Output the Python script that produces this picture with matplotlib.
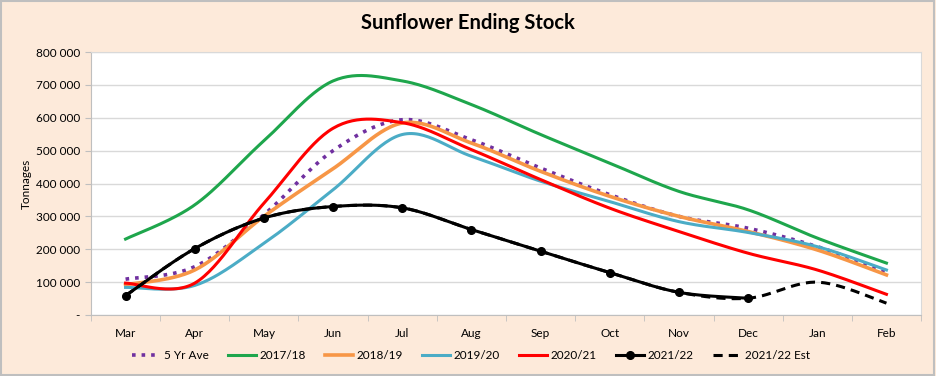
import numpy as np
import matplotlib
matplotlib.use("Agg")
import matplotlib.pyplot as plt
from matplotlib.lines import Line2D
from matplotlib.patches import Rectangle

months = ["Mar", "Apr", "May", "Jun", "Jul", "Aug", "Sep", "Oct", "Nov", "Dec", "Jan", "Feb"]
yr5_ave = [109000, 147000, 305000, 500000, 594000, 533000, 447000, 366000, 300000, 264000, 208000, 132000]
s2017 = [231000, 335000, 530000, 712000, 712000, 640000, 549000, 462000, 376000, 320000, 234000, 158000]
s2018 = [92000, 137000, 300000, 445000, 584000, 523000, 437000, 361000, 300000, 254000, 198000, 122000]
s2019 = [84000, 90000, 218000, 381000, 549000, 483000, 407000, 345000, 284000, 251000, 208000, 137000]
s2020 = [97000, 97000, 340000, 568000, 585000, 503000, 412000, 325000, 254000, 188000, 137000, 63000]
s2021 = [59000, 202000, 295000, 330000, 326000, 260000, 194000, 129000, 69000, 51000]
s2021_est = [59000, 202000, 295000, 330000, 326000, 260000, 194000, 129000, 69000, 51000, 100000, 36000]
yticks = [0, 100000, 200000, 300000, 400000, 500000, 600000, 700000, 800000]
ytick_labels = ["-", "100 000", "200 000", "300 000", "400 000", "500 000", "600 000", "700 000", "800 000"]

FONT = "Lato"


def smooth(xs, ys, n=30):
    xs = np.asarray(xs, float)
    ys = np.asarray(ys, float)
    px = np.concatenate([[xs[0]], xs, [xs[-1]]])
    py = np.concatenate([[ys[0]], ys, [ys[-1]]])
    outx, outy = [], []
    t = np.linspace(0, 1, n)
    for i in range(1, len(px) - 2):
        p0, p1, p2, p3 = (np.array([px[j], py[j]]) for j in range(i - 1, i + 3))
        c1 = p1 + (p2 - p0) / 6.0
        c2 = p2 - (p3 - p1) / 6.0
        b = ((1 - t) ** 3)[:, None] * p1 + (3 * (1 - t) ** 2 * t)[:, None] * c1 \
            + (3 * (1 - t) * t ** 2)[:, None] * c2 + (t ** 3)[:, None] * p2
        outx.extend(b[:, 0]); outy.extend(b[:, 1])
    return np.array(outx), np.array(outy)


BG = "#FDEADA"
fig = plt.figure(figsize=(9.36, 3.76), dpi=100, facecolor=BG)
fig.patches.append(Rectangle((0.001, 0.002), 0.997, 0.995, transform=fig.transFigure,
                             facecolor="none", edgecolor="#BFBFBF", linewidth=1.5))
ax = fig.add_axes([0.0972, 0.1622, 0.8868, 0.6995])
ax.set_facecolor("white")

x = np.arange(len(months))
styles = [
    (yr5_ave, "#7030A0", ":", 2.6, "5 Yr Ave"),
    (s2017, "#1EA64C", "-", 2.2, "2017/18"),
    (s2018, "#F79646", "-", 2.6, "2018/19"),
    (s2019, "#4BACC6", "-", 2.2, "2019/20"),
    (s2020, "#FF0000", "-", 2.2, "2020/21"),
]
handles = []
for ys, c, ls, lw, lab in styles:
    sx, sy = smooth(x[:len(ys)], ys)
    ax.plot(sx, sy, color=c, linestyle=ls, linewidth=lw, zorder=3)
    handles.append(Line2D([0], [0], color=c, linestyle=ls, linewidth=lw, label=lab))

ex, ey = smooth(x[:len(s2021_est)], s2021_est)
ax.plot(ex, ey, color="black", linestyle=(0, (3, 2)), linewidth=2.2, zorder=4)
sx, sy = smooth(x[:len(s2021)], s2021)
ax.plot(sx, sy, color="black", linewidth=2.2, zorder=5)
ax.plot(x[:len(s2021)], s2021, linestyle="none", marker="o", markersize=5.5,
        color="black", zorder=6)
handles.append(Line2D([0], [0], color="black", linewidth=2.2, marker="o", markersize=5.5, label="2021/22"))
handles.append(Line2D([0], [0], color="black", linestyle=(0, (3, 2)), linewidth=2.2, label="2021/22 Est"))

ax.set_xlim(-0.5, len(months) - 0.5)
ax.set_ylim(0, 800000)
ax.set_yticks(yticks)
ax.set_yticklabels(ytick_labels)
ax.set_xticks(x)
ax.set_xticklabels(months)
ax.set_xticks(np.arange(-0.5, len(months), 1.0), minor=True)
ax.tick_params(axis="x", which="major", length=0, pad=9, labelsize=8.5)
ax.tick_params(axis="x", which="minor", length=4, color="#BFBFBF")
ax.tick_params(axis="y", length=4, color="#BFBFBF", labelsize=8.5, pad=4)
ax.grid(axis="y", color="#D9D9D9", linewidth=1.0, zorder=0)
ax.set_axisbelow(True)
for sp in ax.spines.values():
    sp.set_color("#D9D9D9")
ax.spines["left"].set_color("#BFBFBF")
ax.spines["bottom"].set_color("#BFBFBF")
for lab in ax.get_xticklabels() + ax.get_yticklabels():
    lab.set_fontfamily(FONT)
ax.set_ylabel("Tonnages", fontsize=8.5, fontfamily=FONT, labelpad=3)

fig.text(0.5, 0.94, "Sunflower Ending Stock", ha="center", va="center",
         fontsize=14.5, fontweight="bold", fontfamily=FONT)

fig.legend(handles=handles, loc="center", bbox_to_anchor=(0.503, 0.055), ncol=7,
           frameon=False, prop={"family": FONT, "size": 8.5},
           handlelength=2.4, handletextpad=0.3, columnspacing=1.6)

fig.savefig("out.png", dpi=100, facecolor=BG)
